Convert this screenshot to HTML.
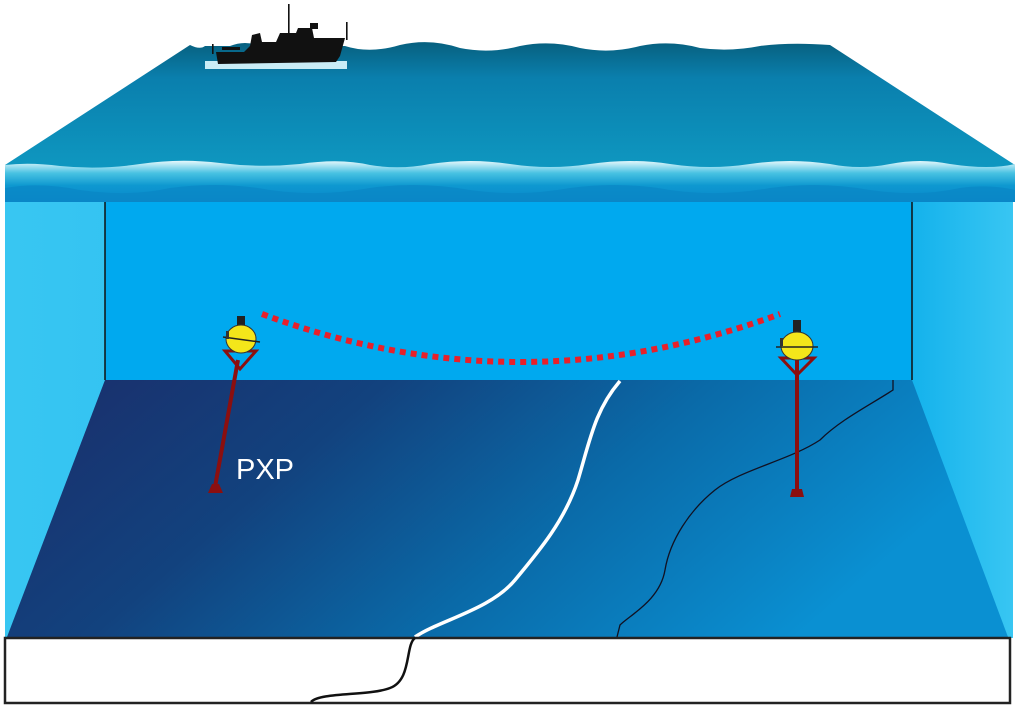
<!DOCTYPE html>
<html><head><meta charset="utf-8"><style>
html,body{margin:0;padding:0;background:#fff;width:1020px;height:708px;overflow:hidden}
svg{display:block}
</style></head><body>
<svg width="1020" height="708" viewBox="0 0 1020 708" xmlns="http://www.w3.org/2000/svg">
<defs>
<linearGradient id="sea" x1="0" y1="0" x2="0" y2="1">
<stop offset="0" stop-color="#07607f"/><stop offset="0.25" stop-color="#0a7fad"/><stop offset="1" stop-color="#0f9cc4"/>
</linearGradient>
<linearGradient id="band" x1="0" y1="0" x2="0" y2="1">
<stop offset="0" stop-color="#e6f8fc"/><stop offset="0.3" stop-color="#48c2e2"/><stop offset="0.6" stop-color="#0e98d0"/><stop offset="1" stop-color="#0a88cc"/>
</linearGradient>
<linearGradient id="floor" x1="0" y1="0" x2="1" y2="0.3">
<stop offset="0" stop-color="#1b2d6a"/><stop offset="0.35" stop-color="#12427e"/><stop offset="0.65" stop-color="#0a6aa8"/><stop offset="1" stop-color="#0a90d2"/>
</linearGradient>
<linearGradient id="sideL" x1="0" y1="0" x2="1" y2="0">
<stop offset="0" stop-color="#38c6f2"/><stop offset="1" stop-color="#14b2ec"/>
</linearGradient>
<linearGradient id="sideR" x1="0" y1="0" x2="1" y2="0">
<stop offset="0" stop-color="#14b2ec"/><stop offset="1" stop-color="#38c6f2"/>
</linearGradient>
</defs>
<rect x="5" y="195" width="1008" height="443" fill="url(#sideL)"/>
<rect x="912" y="195" width="101" height="443" fill="url(#sideR)"/>
<rect x="105" y="200" width="807" height="180" fill="#00a9ef"/>
<line x1="105" y1="200" x2="105" y2="380" stroke="#111" stroke-width="1.5"/>
<line x1="912" y1="200" x2="912" y2="380" stroke="#111" stroke-width="1.5"/>
<polygon points="105,380 912,380 1008,637 7,637" fill="url(#floor)"/>
<path d="M190,45 Q200,50 205,46 L230,46 Q245,40 260,46 Q280,52 300,46 Q320,40 340,46 L345,46 Q370,54 400,45 Q430,38 460,48 Q490,54 520,46 Q550,40 580,48 Q610,54 640,46 Q670,40 700,48 Q730,52 760,46 Q790,42 830,45 L1015,165 L1015,185 L5,185 L5,165 Z" fill="url(#sea)"/>
<path d="M5,165 Q30,162 60,166 Q100,170 140,164 Q180,158 220,163 Q260,168 300,164 Q340,158 370,165 Q400,170 430,164 Q470,158 510,164 Q550,170 590,164 Q630,158 670,164 Q710,170 750,164 Q790,158 830,164 Q860,170 890,164 Q920,158 950,164 Q990,170 1015,164 L1015,202 L5,202 Z" fill="url(#band)"/>
<path d="M5,188 Q40,182 80,190 Q130,197 170,188 Q220,181 270,190 Q320,197 370,188 Q420,181 470,190 Q520,197 570,188 Q620,181 670,190 Q720,197 770,188 Q820,181 870,190 Q920,197 960,188 Q990,184 1015,190 L1015,202 L5,202 Z" fill="#0a86c4" opacity="0.7"/>
<!-- ship -->
<rect x="205" y="61" width="142" height="8" fill="#c9ecf6"/>
<g fill="#111">
<path d="M216,52 L244,52 L250,46 L252,35 L260,33 L262,42 L276,42 L280,33 L296,33 L298,28 L312,28 L314,38 L345,38 L340,56 L336,62 L218,64 Z"/>
<rect x="288" y="4" width="1.6" height="30"/>
<rect x="310" y="23" width="8" height="6"/>
<rect x="346" y="22" width="1.6" height="18"/>
<rect x="212" y="44" width="1.6" height="10"/>
<rect x="222" y="47" width="18" height="3"/>
</g>
<path d="M262,314 Q520,410 780,314" fill="none" stroke="#e8202a" stroke-width="6" stroke-dasharray="6,5"/>
<path d="M620,381 C595,410 590,440 578,480 C565,520 540,550 515,580 C490,610 440,620 415,637" fill="none" stroke="#fff" stroke-width="3.5"/>
<path d="M893,380 L893,390 C870,405 840,420 820,440 C790,460 740,470 715,490 C690,510 670,540 665,570 C660,600 630,615 620,625 L617,637" fill="none" stroke="#112" stroke-width="1.3"/>
<!-- left buoy -->
<line x1="238" y1="360" x2="215" y2="487" stroke="#8b0f0f" stroke-width="4"/>
<path d="M208,493 L212,484 L219,484 L223,493 Z" fill="#8b0f0f"/>
<path d="M225,351 L256,351 L240,369 Z" fill="none" stroke="#8b0f0f" stroke-width="3"/>
<rect x="237" y="316" width="8" height="12" fill="#222"/>
<ellipse cx="241" cy="339" rx="15" ry="14" fill="#f4e61a" stroke="#333" stroke-width="1"/>
<line x1="223" y1="337" x2="260" y2="342" stroke="#222" stroke-width="1.5"/>
<rect x="226" y="331" width="3" height="8" fill="#333"/>
<!-- right buoy -->
<line x1="797" y1="360" x2="797" y2="490" stroke="#8b0f0f" stroke-width="4"/>
<path d="M790,497 L792,489 L802,489 L804,497 Z" fill="#8b0f0f"/>
<path d="M781,358 L814,358 L797,375 Z" fill="none" stroke="#8b0f0f" stroke-width="3"/>
<rect x="793" y="320" width="8" height="13" fill="#222"/>
<ellipse cx="797" cy="346" rx="16" ry="14" fill="#f4e61a" stroke="#333" stroke-width="1"/>
<line x1="776" y1="347" x2="818" y2="347" stroke="#222" stroke-width="1.5"/>
<rect x="780" y="338" width="3" height="8" fill="#333"/>
<text x="236" y="479" font-family="Liberation Sans, sans-serif" font-size="29" fill="#fff">PXP</text>
<rect x="5" y="638" width="1005" height="65" fill="#fff" stroke="#222" stroke-width="2.5"/>
<path d="M415,638 C405,645 412,680 390,688 C370,696 320,692 311,702" fill="none" stroke="#111" stroke-width="2.5"/>
</svg>
</body></html>
